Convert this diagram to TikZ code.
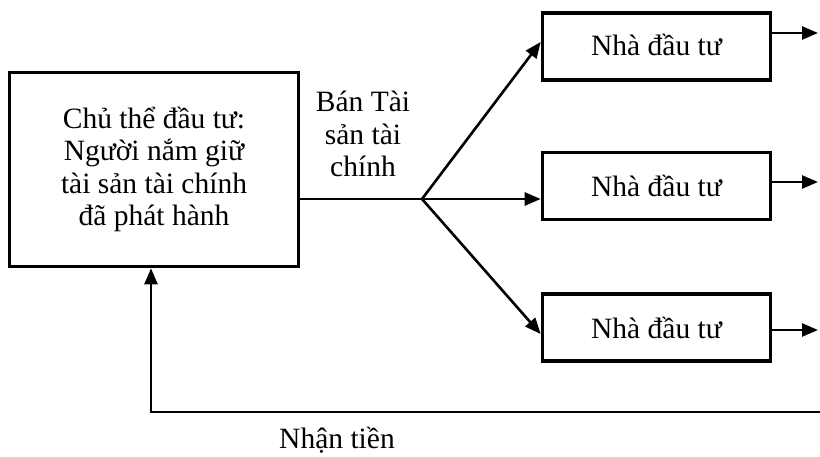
\documentclass[tikz,border=0pt]{standalone}
\usepackage{fontspec}
\setmainfont{Liberation Serif}
\usetikzlibrary{arrows.meta}
\begin{document}
\begin{tikzpicture}[x=1pt,y=-1pt,
  txt/.style={font=\fontsize{29.5}{32.5}\selectfont, align=center, inner sep=0pt},
  box/.style={txt, draw, line width=3.6pt},
  investor/.style={box, minimum width=228pt, minimum height=67pt},
  link/.style={line width=2.6pt},
  arr/.style={link, -{Triangle[length=16pt,width=13pt]}}]
\useasboundingbox (0,0) rectangle (820,457);

% source box
\node[box, minimum width=289pt, minimum height=194pt] (src) at (154,169.5)
  {Chủ thể đầu tư:\\Người nắm giữ\\tài sản tài chính\\đã phát hành};

% investors
\node[investor] (n1) at (656.5,46.5) {\raisebox{3pt}{Nhà đầu tư}};
\node[investor] (n2) at (656.5,186) {Nhà đầu tư};
\node[investor] (n3) at (656.5,327.5) {Nhà đầu tư};

% labels
\node[txt] (sell) at (363,134) {Bán Tài\\sản tài\\chính};
\node[txt] (cash) at (337,440) {Nhận tiền};

% branching point and arrow ends
\coordinate (b) at (422,199);
\coordinate (t1) at (0,42);
\coordinate (t2) at (0,199);
\coordinate (t3) at (0,334);
\coordinate (o1) at (818,33);
\coordinate (o2) at (818,182);
\coordinate (o3) at (818,330);
\coordinate (r) at (820,412);
\coordinate (rk) at (151,412);

\draw[link] (src.east |- b) -- (b);
\draw[arr] (b) -- (n1.west |- t1);
\draw[arr] (b) -- (n2.west |- t2);
\draw[arr] (b) -- (n3.west |- t3);

\draw[arr] (n1.east |- o1) -- (o1);
\draw[arr] (n2.east |- o2) -- (o2);
\draw[arr] (n3.east |- o3) -- (o3);

\draw[arr] (r) -- (rk) -- (rk |- src.south);
\end{tikzpicture}
\end{document}
